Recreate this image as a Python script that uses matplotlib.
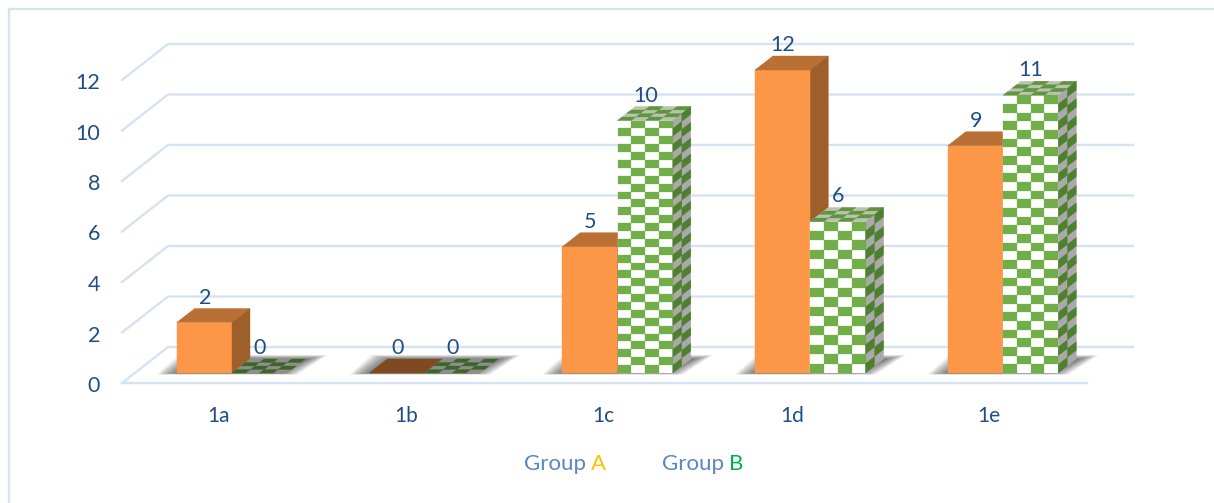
#!/usr/bin/env python3
"""Clustered pseudo-3D bar chart of Group A and Group B counts per item."""

import matplotlib

matplotlib.use("Agg")
import matplotlib.pyplot as plt
from matplotlib.collections import PolyCollection
from matplotlib.lines import Line2D
from matplotlib.patches import Polygon

categories = ["1a", "1b", "1c", "1d", "1e"]
group_a = [2, 0, 5, 12, 9]
group_b = [0, 0, 10, 6, 11]
y_ticks = [0, 2, 4, 6, 8, 10, 12]

# checker rows on the front of each Group B bar
check_rows = [1, 1, 32, 16, 32]
# category labels sit a little left of the bars, in pixels
label_shift = [13.5, 19, 14, 18, 14]

GRID = "#D5E2F2"
NAVY = "#1F4E86"
ORANGE = "#FB9746"
ORANGE_TOP = "#BA7035"
ORANGE_SIDE = "#9E5F2B"
ORANGE_FLAT = "#7F4A22"
GREEN = "#71AE49"
GREEN_TOP = "#5F9440"
GREEN_SIDE = "#4F8030"
GREEN_FLAT = "#3D6526"
FONT = "Lato"

# data units per pixel, axes fill the whole figure
PX_X = 1 / 192.75
PX_Y = 1 / 25.25
BAR_W = 55.3 * PX_X
DEPTH_X = 18 * PX_X
DEPTH_Y = 14 * PX_Y
FRONT_DROP = 10 * PX_Y
BACK_RISE = 26 * PX_Y


def face(x, y, width, height, skew=0.0, color=ORANGE, zorder=3):
    """Parallelogram starting at (x, y); skew shifts the top edge sideways."""
    return Polygon(
        [(x, y), (x + width, y), (x + width + skew, y + height), (x + skew, y + height)],
        closed=True, facecolor=color, edgecolor=color, linewidth=0.3, zorder=zorder,
    )


def check_cells(corner, u, v, cols, rows):
    """Cells of one checker colour on the face spanned by vectors u and v."""
    cells = []
    for r in range(rows):
        for c in range(cols):
            if (r + c) % 2:
                continue
            p = [
                (c / cols, r / rows),
                ((c + 1) / cols, r / rows),
                ((c + 1) / cols, (r + 1) / rows),
                (c / cols, (r + 1) / rows),
            ]
            cells.append(
                [(corner[0] + a * u[0] + b * v[0], corner[1] + a * u[1] + b * v[1]) for a, b in p]
            )
    return cells


def checker(ax, corner, u, v, cols, rows, back, color, zorder):
    base = [
        corner,
        (corner[0] + u[0], corner[1] + u[1]),
        (corner[0] + u[0] + v[0], corner[1] + u[1] + v[1]),
        (corner[0] + v[0], corner[1] + v[1]),
    ]
    ax.add_patch(Polygon(base, closed=True, facecolor=back, edgecolor=back, linewidth=0.3, zorder=zorder))
    cells = check_cells(corner, u, v, cols, rows)
    ax.add_collection(PolyCollection(cells, facecolors=color, edgecolors=color, linewidths=0.2, zorder=zorder + 0.1))


def floor_shadow(ax, left, right):
    # stacked translucent shapes give the soft edge under each pair of bars
    for k in range(14):
        inset = k * 1.6
        low = -1.5 + k * 0.1
        high = 18 - k * 0.35
        pts = [
            (left + (inset - 20) * PX_X, low * PX_Y),
            (right + (10 - inset) * PX_X, low * PX_Y),
            (right + (40 - inset) * PX_X, high * PX_Y),
            (left + (inset + 2) * PX_X, high * PX_Y),
        ]
        ax.add_patch(Polygon(pts, closed=True, facecolor="#3A3A3A", edgecolor="none", alpha=0.075, zorder=1.5))


def orange_bar(ax, x, value):
    if value == 0:
        ax.add_patch(face(x, 0, BAR_W, DEPTH_Y, DEPTH_X, ORANGE_FLAT))
        return
    ax.add_patch(face(x, 0, BAR_W, value, 0, ORANGE))
    ax.add_patch(face(x, value, BAR_W, DEPTH_Y, DEPTH_X, ORANGE_TOP))
    side = [
        (x + BAR_W, 0),
        (x + BAR_W + DEPTH_X, DEPTH_Y),
        (x + BAR_W + DEPTH_X, value + DEPTH_Y),
        (x + BAR_W, value),
    ]
    ax.add_patch(Polygon(side, closed=True, facecolor=ORANGE_SIDE, edgecolor=ORANGE_SIDE, linewidth=0.3, zorder=3))


def green_bar(ax, x, value, rows):
    if value == 0:
        checker(ax, (x, 0), (BAR_W, 0), (DEPTH_X, DEPTH_Y), 4, 4, "#8E8E8E", GREEN_FLAT, 3)
        return
    checker(ax, (x, 0), (BAR_W, 0), (0, value), 4, rows, "white", GREEN, 3.5)
    checker(ax, (x, value), (BAR_W, 0), (DEPTH_X, DEPTH_Y), 4, 4, "#B9C4AE", GREEN_TOP, 3.5)
    checker(ax, (x + BAR_W, 0), (DEPTH_X, DEPTH_Y), (0, value), 2, rows, "#A9A9A9", GREEN_SIDE, 3.5)


fig = plt.figure(figsize=(12.14, 5.03), dpi=100)
ax = fig.add_axes([0, 0, 1, 1])
ax.set_xlim(-232 * PX_X, (1214 - 232) * PX_X)
ax.set_ylim(-130 * PX_Y, 373 * PX_Y)
ax.axis("off")

# outer frame, only the top and left edges are drawn
frame_kw = dict(color=GRID, linewidth=1.6, transform=fig.transFigure)
fig.add_artist(Line2D([8.5 / 1214, 8.5 / 1214], [0, 1 - 9 / 503], **frame_kw))
fig.add_artist(Line2D([8.5 / 1214, 1], [1 - 9 / 503, 1 - 9 / 503], **frame_kw))

# back wall lines and the left-hand diagonals
wall_left = -64 * PX_X
wall_right = 901 * PX_X
floor_left = -110 * PX_X
for tick in y_ticks:
    ax.plot([floor_left, wall_left, wall_right], [tick - FRONT_DROP, tick + BACK_RISE, tick + BACK_RISE],
            color=GRID, linewidth=1.7, zorder=1, solid_joinstyle="miter")
    ax.text(-132 * PX_X, tick - FRONT_DROP - PX_Y, str(tick), ha="right", va="center_baseline",
            fontsize=15.5, color=NAVY, family=FONT)
ax.plot([floor_left, 855 * PX_X], [-FRONT_DROP, -FRONT_DROP], color=GRID, linewidth=1.7, zorder=1)

for i, name in enumerate(categories):
    left = i - BAR_W
    floor_shadow(ax, left, i + BAR_W)
    orange_bar(ax, left, group_a[i])
    green_bar(ax, i, group_b[i], check_rows[i])

    ax.text(left + 28 * PX_X, group_a[i] + 27 * PX_Y, str(group_a[i]), ha="center", va="center_baseline",
            fontsize=15.5, color=NAVY, family=FONT, zorder=6)
    ax.text(i + 28 * PX_X, group_b[i] + 27 * PX_Y, str(group_b[i]), ha="center", va="center_baseline",
            fontsize=15.5, color=NAVY, family=FONT, zorder=6)
    ax.text(i - label_shift[i] * PX_X, -41 * PX_Y, name, ha="center", va="center_baseline",
            fontsize=15, color=NAVY, family=FONT)

# legend text, each group name with a coloured letter
legend_items = [(524, "Group", "#5A86C2"), (590.5, "A", "#FFC000"), (662, "Group", "#5A86C2"), (729, "B", "#00B050")]
for px, label, color in legend_items:
    fig.text(px / 1214, 1 - 470.5 / 503, label, ha="left", va="baseline", fontsize=16, color=color, family=FONT)

fig.savefig("out.png", dpi=100)
plt.close(fig)
